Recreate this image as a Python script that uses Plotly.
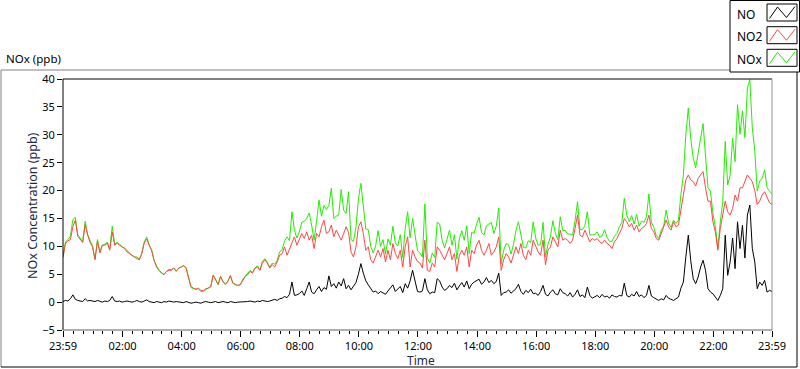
import pandas as pd
import plotly.graph_objects as go

# ---------------- data (5-minute readings, 23:59 -> 23:59) ----------------
no2_h = [
    [8.0, 10.5, 11.0, 11.2, 13.5, 14.7, 11.8, 11.3, 10.7, 13.9, 12.0, 10.7],
    [9.9, 7.6, 10.9, 8.8, 10.2, 10.2, 10.6, 9.3, 12.6, 10.2, 10.6, 10.2],
    [9.9, 9.6, 9.0, 8.7, 8.4, 8.0, 7.8, 7.6, 8.7, 10.6, 11.3, 10.2],
    [9.3, 7.5, 6.3, 5.7, 5.3, 4.9, 5.5, 5.7, 5.7, 6.1, 5.5, 6.1],
    [6.3, 6.6, 6.1, 4.6, 2.8, 2.5, 2.3, 2.5, 2.1, 2.0, 2.3, 2.5],
    [2.8, 4.8, 4.0, 3.2, 4.6, 3.6, 3.2, 3.8, 4.7, 3.4, 3.2, 3.0],
    [3.1, 4.0, 4.6, 4.9, 5.5, 5.2, 6.1, 6.3, 5.7, 7.0, 7.6, 7.0],
    [6.1, 6.7, 6.3, 7.2, 8.4, 8.7, 9.9, 8.4, 9.6, 10.8, 11.7, 10.2],
    [11.1, 12.3, 11.4, 12.6, 11.1, 12.0, 9.6, 12.3, 11.7, 13.5, 14.7, 12.3],
    [12.6, 13.8, 11.7, 12.9, 12.0, 11.1, 12.3, 13.5, 12.5, 9.0, 8.1, 9.9],
    [13.5, 14.4, 12.3, 9.3, 9.9, 7.6, 7.0, 8.1, 9.3, 8.1, 9.6, 7.2],
    [9.3, 7.6, 10.5, 8.7, 7.8, 9.3, 6.3, 9.9, 11.7, 6.3, 9.3, 8.1],
    [7.3, 7.0, 6.1, 11.1, 5.7, 5.5, 7.0, 6.3, 9.9, 9.3, 8.4, 7.6],
    [8.7, 9.9, 7.6, 8.7, 5.5, 8.4, 9.3, 8.4, 9.9, 6.3, 9.3, 8.7],
    [10.2, 11.1, 9.3, 8.4, 9.3, 10.5, 8.4, 9.0, 9.9, 11.7, 5.7, 7.6],
    [8.7, 8.1, 7.0, 8.4, 9.9, 8.7, 10.5, 8.4, 7.6, 9.3, 8.4, 11.1],
    [9.9, 9.0, 8.4, 11.1, 6.7, 9.3, 9.9, 11.7, 10.8, 9.9, 12.9, 11.1],
    [11.4, 11.1, 10.5, 11.1, 13.2, 15.6, 12.0, 11.7, 12.9, 11.7, 10.8, 11.4],
    [11.1, 11.4, 10.8, 10.5, 11.1, 10.5, 10.2, 9.6, 10.8, 11.4, 12.3, 13.2],
    [15.0, 14.4, 13.5, 14.1, 12.9, 13.8, 12.6, 13.2, 13.5, 14.1, 15.6, 13.2],
    [12.6, 11.4, 11.1, 12.3, 13.2, 14.7, 13.5, 12.9, 14.4, 13.5, 13.8, 16.8],
    [19.2, 21.9, 22.8, 21.9, 21.6, 20.8, 22.2, 22.8, 23.4, 20.5, 18.1, 18.1],
    [14.4, 12.6, 9.3, 13.2, 15.6, 18.1, 16.2, 15.6, 16.8, 19.2, 18.1, 20.5],
    [20.5, 21.6, 22.8, 22.2, 21.6, 20.0, 17.5, 18.1, 19.2, 19.8, 18.7, 17.8],
    [17.5],
]

no_h = [
    [0.1, 0.3, 0.2, 0.6, 1.3, 0.5, 0.3, 0.2, 0.1, 0.6, 0.2, 0.3],
    [0.2, 0.1, 0.3, 0.2, 0.0, 0.2, 0.1, 0.3, 1.0, 0.2, 0.1, 0.2],
    [0.0, 0.1, 0.2, 0.1, 0.0, 0.1, 0.3, 0.1, 0.0, 0.2, 0.4, 0.1],
    [0.0, -0.1, 0.1, 0.0, -0.1, 0.1, 0.0, 0.2, 0.1, 0.0, 0.1, 0.0],
    [0.0, -0.1, 0.1, 0.0, -0.2, -0.1, 0.0, -0.1, -0.2, 0.0, 0.1, 0.0],
    [-0.1, 0.0, 0.1, -0.1, 0.0, 0.1, 0.0, -0.1, 0.1, 0.0, -0.1, 0.0],
    [0.0, 0.1, 0.0, 0.1, 0.2, 0.1, 0.0, 0.2, 0.1, 0.3, 0.2, 0.1],
    [0.2, 0.3, 0.5, 0.3, 0.6, 0.7, 1.0, 0.8, 1.4, 3.6, 1.2, 1.3],
    [1.5, 2.0, 1.2, 2.4, 3.6, 1.8, 1.5, 2.2, 2.8, 1.9, 2.6, 2.3],
    [4.7, 2.8, 3.3, 2.5, 3.6, 2.9, 4.2, 2.4, 3.0, 2.2, 2.8, 3.5],
    [5.0, 6.9, 5.2, 3.8, 3.1, 2.4, 1.8, 2.0, 1.5, 1.9, 1.6, 1.4],
    [2.0, 2.6, 3.1, 1.9, 2.3, 2.8, 1.7, 3.3, 2.5, 3.8, 5.7, 4.0],
    [1.9, 1.8, 2.0, 4.2, 2.2, 1.5, 1.8, 1.7, 4.2, 3.8, 2.7, 2.1],
    [2.4, 3.0, 2.6, 3.4, 2.2, 2.9, 3.5, 2.7, 3.8, 2.4, 3.2, 3.6],
    [3.8, 4.1, 3.2, 3.6, 4.4, 3.5, 3.9, 3.3, 3.7, 5.2, 1.2, 1.7],
    [1.8, 2.2, 1.6, 2.0, 2.4, 3.2, 1.9, 1.4, 2.1, 1.7, 2.3, 1.5],
    [1.6, 1.2, 1.9, 3.0, 1.4, 1.1, 1.8, 2.2, 1.5, 1.3, 2.4, 1.7],
    [1.5, 1.1, 1.7, 0.9, 1.4, 2.2, 1.0, 1.3, 0.8, 2.7, 1.2, 0.7],
    [1.0, 1.2, 0.8, 1.4, 0.9, 1.1, 0.7, 1.3, 1.0, 0.9, 1.2, 1.1],
    [3.4, 1.2, 0.9, 1.4, 1.1, 1.9, 1.0, 1.3, 0.8, 1.2, 3.0, 1.1],
    [0.8, 0.5, 0.3, 0.6, 0.4, 1.2, 0.7, 0.5, 0.3, 0.6, 0.9, 2.5],
    [3.6, 8.1, 12.0, 7.4, 4.2, 3.3, 4.5, 6.3, 7.5, 5.7, 2.4, 1.8],
    [1.5, 0.9, 0.3, 1.2, 2.4, 12.0, 4.8, 7.2, 11.5, 6.0, 14.4, 9.6],
    [13.8, 7.9, 15.6, 17.4, 9.6, 7.2, 2.4, 3.6, 3.0, 3.9, 1.8, 2.1],
    [1.9],
]

nox_h = [
    [8.1, 10.8, 11.2, 11.8, 14.8, 15.2, 12.1, 11.5, 10.8, 14.5, 12.2, 11.0],
    [10.1, 7.7, 11.2, 9.0, 10.2, 10.4, 10.7, 9.6, 13.6, 10.4, 10.7, 10.4],
    [9.9, 9.7, 9.2, 8.8, 8.4, 8.1, 8.1, 7.7, 8.7, 10.8, 11.7, 10.3],
    [9.3, 7.4, 6.4, 5.7, 5.2, 5.0, 5.5, 5.9, 5.8, 6.1, 5.6, 6.1],
    [6.3, 6.5, 6.2, 4.6, 2.6, 2.4, 2.3, 2.4, 1.9, 2.0, 2.4, 2.5],
    [2.7, 4.8, 4.1, 3.1, 4.6, 3.7, 3.2, 3.7, 4.8, 3.4, 3.1, 3.0],
    [3.1, 4.1, 4.6, 5.0, 5.7, 5.3, 6.1, 6.5, 5.8, 7.3, 7.8, 7.1],
    [6.3, 7.0, 6.8, 7.5, 9.0, 9.4, 10.9, 11.7, 11.0, 16.2, 12.9, 11.5],
    [12.6, 14.3, 14.5, 15.0, 16.0, 13.8, 11.1, 14.5, 18.3, 15.4, 17.3, 16.6],
    [17.3, 20.4, 15.0, 15.4, 15.6, 20.2, 16.5, 15.9, 19.8, 11.2, 10.9, 13.4],
    [18.5, 21.3, 17.5, 13.1, 13.0, 10.0, 8.8, 10.1, 12.8, 10.0, 11.2, 8.6],
    [11.3, 10.2, 13.6, 10.6, 10.1, 12.1, 8.0, 13.2, 16.2, 11.5, 15.0, 12.1],
    [9.2, 8.8, 8.1, 17.6, 7.9, 7.0, 8.8, 8.0, 14.3, 14.0, 11.1, 9.7],
    [11.1, 12.9, 10.2, 12.1, 7.7, 11.3, 12.8, 11.1, 13.7, 8.7, 12.5, 12.3],
    [14.0, 15.2, 12.5, 12.0, 13.7, 14.0, 14.3, 12.3, 13.6, 16.9, 6.9, 9.3],
    [10.5, 10.3, 8.6, 10.4, 12.9, 14.4, 12.4, 9.8, 9.7, 11.0, 10.7, 14.4],
    [11.5, 10.2, 10.3, 14.3, 8.1, 10.4, 11.7, 14.6, 12.3, 11.2, 15.3, 12.8],
    [12.9, 12.2, 12.2, 12.0, 14.6, 18.0, 13.0, 13.0, 13.7, 16.2, 12.0, 12.1],
    [12.1, 12.6, 11.6, 11.9, 13.0, 11.6, 10.9, 10.9, 11.8, 12.3, 13.5, 14.3],
    [18.6, 15.6, 14.4, 15.5, 14.0, 15.7, 13.6, 14.5, 14.3, 15.3, 19.4, 14.3],
    [13.4, 11.9, 11.4, 12.9, 13.6, 16.5, 14.2, 13.4, 14.7, 14.1, 14.7, 19.3],
    [22.8, 30.0, 34.8, 29.3, 25.8, 24.1, 26.7, 29.1, 32.0, 26.2, 20.5, 19.9],
    [15.9, 13.5, 9.6, 14.4, 18.0, 28.8, 21.0, 22.8, 29.4, 25.2, 35.4, 30.1],
    [34.3, 29.5, 38.4, 39.9, 31.2, 27.2, 19.9, 21.7, 22.2, 23.7, 20.5, 19.9],
    [19.4],
]

tick_labels = ["23:59", "02:00", "04:00", "06:00", "08:00", "10:00", "12:00",
               "14:00", "16:00", "18:00", "20:00", "22:00", "23:59"]
tick_times = ["2000-01-01 23:59", "2000-01-02 02:00", "2000-01-02 04:00",
              "2000-01-02 06:00", "2000-01-02 08:00", "2000-01-02 10:00",
              "2000-01-02 12:00", "2000-01-02 14:00", "2000-01-02 16:00",
              "2000-01-02 18:00", "2000-01-02 20:00", "2000-01-02 22:00",
              "2000-01-02 23:59"]
y_ticks = [-5, 0, 5, 10, 15, 20, 25, 30, 35, 40]

no2 = [v for h in no2_h for v in h]
no = [v for h in no_h for v in h]
nox = [v for h in nox_h for v in h]
times = pd.date_range("2000-01-01 23:59", periods=len(no2), freq="5min")

# ---------------- layout geometry (pixels) ----------------
W, H = 800, 369
L, R, T, B = 63, 772, 79, 330
PW, PH = R - L, B - T
FONT = "Noto Sans"


def px(x):
    return (x - L) / PW


def py(y):
    return (B - y) / PH


fig = go.Figure()
fig.add_trace(go.Scatter(x=times, y=nox, mode="lines", name="NOx",
                         line=dict(color="#22ee00", width=1), showlegend=False))
fig.add_trace(go.Scatter(x=times, y=no2, mode="lines", name="NO2",
                         line=dict(color="#ff4646", width=1), showlegend=False))
fig.add_trace(go.Scatter(x=times, y=no, mode="lines", name="NO",
                         line=dict(color="#000000", width=1), showlegend=False))

shapes = []


def seg(x0, y0, x1, y1, color, width=1):
    shapes.append(dict(type="line", xref="paper", yref="paper",
                       x0=px(x0), y0=py(y0), x1=px(x1), y1=py(y1),
                       line=dict(color=color, width=width), layer="above"))


# outer frame
seg(1, 70, 730, 70, "#808080")
seg(1, 70, 1, 367, "#808080")
seg(1, 367, 797, 367, "#000000")
seg(797, 72, 797, 367, "#000000")
# plot frame
seg(L, T, R, T, "#000000")
seg(L, T, L, B, "#000000")
seg(R, T, R, B, "#909090")
seg(L, B, R, B, "#606060")

# legend box
shapes.append(dict(type="rect", xref="paper", yref="paper",
                   x0=px(730), y0=py(72), x1=px(799.5), y1=py(0.5),
                   line=dict(color="#000000", width=1), fillcolor="white",
                   layer="above"))
leg_items = [("NO", "#000000", 0), ("NO2", "#ff4646", 22.7), ("NOx", "#22ee00", 45.3)]
annotations = []
for name, color, dy in leg_items:
    shapes.append(dict(type="rect", xref="paper", yref="paper",
                       x0=px(767), y0=py(4 + dy), x1=px(797), y1=py(21 + dy),
                       line=dict(color="#000000", width=1), fillcolor="white",
                       layer="above"))
    pts = [(769.5, 18.5), (777.5, 7), (786.5, 17.5), (795, 6.5)]
    path = "M " + " L ".join(f"{px(a)},{py(b + dy)}" for a, b in pts)
    shapes.append(dict(type="path", xref="paper", yref="paper", path=path,
                       line=dict(color=color, width=1), layer="above"))
    annotations.append(dict(x=px(735), y=py(14 + dy), xref="paper", yref="paper",
                            text=name, showarrow=False, xanchor="left",
                            yanchor="middle", font=dict(family=FONT, size=12,
                                                        color="#000000")))

annotations += [
    dict(x=px(4), y=py(58), xref="paper", yref="paper", text="NOx (ppb)",
         showarrow=False, xanchor="left", yanchor="middle",
         font=dict(family=FONT, size=11.5, color="#000000")),
    dict(x=px(32), y=py(206), xref="paper", yref="paper",
         text="NOx Concentration (ppb)", showarrow=False, textangle=-90,
         xanchor="center", yanchor="middle",
         font=dict(family=FONT, size=12.5, color="#1c2a44")),
    dict(x=px(421), y=py(360.5), xref="paper", yref="paper", text="Time",
         showarrow=False, xanchor="center", yanchor="middle",
         font=dict(family=FONT, size=12, color="#1c2a44")),
]

fig.update_layout(
    width=W, height=H,
    margin=dict(l=L, r=W - R, t=T, b=H - B, pad=0),
    paper_bgcolor="white", plot_bgcolor="white",
    shapes=shapes, annotations=annotations,
    showlegend=False,
    xaxis=dict(range=[times[0], times[-1]], tickmode="array",
               tickvals=tick_times, ticktext=tick_labels,
               ticks="outside", ticklen=6, tickcolor="#000000", tickwidth=1,
               showgrid=False, zeroline=False, showline=False,
               tickfont=dict(family=FONT, size=11, color="#000000"),
               minor=dict(ticks="outside", ticklen=3, tickcolor="#000000",
                          dtick=20 * 60 * 1000, tick0="2000-01-02 00:00",
                          showgrid=False)),
    yaxis=dict(range=[-5, 40], tickmode="array", tickvals=y_ticks,
               ticks="outside", ticklen=5, tickcolor="#000000", tickwidth=1,
               showgrid=False, zeroline=False, showline=False,
               tickfont=dict(family=FONT, size=11, color="#000000")),
)

fig.write_html("out.html", config={"displayModeBar": False},
               post_script="document.body.style.margin='0';"
                           "document.body.style.overflow='hidden';")
